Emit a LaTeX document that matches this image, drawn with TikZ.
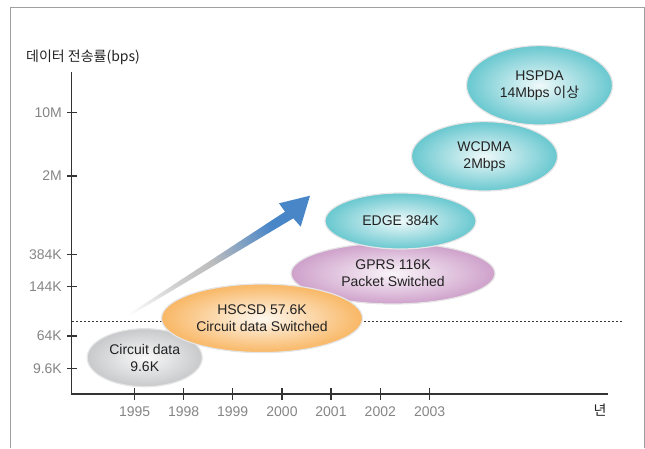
\documentclass[tikz,border=0pt]{standalone}
\usepackage{fontspec}
\setmainfont{Liberation Sans}
\newfontfamily\krfont{Noto Sans CJK KR}
\usetikzlibrary{shapes.geometric}
\definecolor{axisgray}{HTML}{858585}
\definecolor{framegray}{HTML}{A0A0A0}
\definecolor{axisdark}{HTML}{333333}
\definecolor{txtdark}{HTML}{222222}
\definecolor{grayc}{HTML}{C4C5C7}
\definecolor{orangec}{HTML}{F8B25A}
\definecolor{purplec}{HTML}{CB9AC7}
\definecolor{tealc}{HTML}{5EC4CC}
\definecolor{arrowblue}{HTML}{4886C8}
\pgfdeclareradialshading{grayball}{\pgfpoint{0bp}{0bp}}{color(0bp)=(grayc!10!white); color(6bp)=(grayc!30!white); color(27bp)=(grayc); color(50bp)=(grayc)}
\pgfdeclareradialshading{orangeball}{\pgfpoint{0bp}{0bp}}{color(0bp)=(orangec!10!white); color(6bp)=(orangec!30!white); color(27bp)=(orangec); color(50bp)=(orangec)}
\pgfdeclareradialshading{purpleball}{\pgfpoint{0bp}{0bp}}{color(0bp)=(purplec!10!white); color(6bp)=(purplec!30!white); color(27bp)=(purplec); color(50bp)=(purplec)}
\pgfdeclareradialshading{tealball}{\pgfpoint{0bp}{0bp}}{color(0bp)=(tealc!10!white); color(6bp)=(tealc!30!white); color(27bp)=(tealc); color(50bp)=(tealc)}
\pgfdeclarehorizontalshading{arrowsh}{100bp}{color(0bp)=(white); color(28bp)=(white); color(44bp)=(black!20); color(54bp)=(black!26); color(72bp)=(arrowblue); color(100bp)=(arrowblue)}
\tikzset{
  bubble/.style={ellipse, inner sep=0pt, draw=white!90!black, line width=1.2pt,
    text=txtdark, align=center, font=\fontsize{14}{17}\selectfont},
  axlabel/.style={text=axisgray, font=\fontsize{14}{17}\selectfont, inner sep=0pt},
  tickmark/.style={axisdark, line width=1.2pt},
  axisline/.style={axisdark, line width=1.4pt}
}
\begin{document}
\begin{tikzpicture}[x=1pt,y=1pt]
\useasboundingbox (0,0) rectangle (645,448);
% frame
\draw[framegray, line width=1pt] (10,0) -- (10,440) -- (644,440) -- (644,0);
% axes
\coordinate (origin) at (71.7,54);
\coordinate (ytop) at (71.7,376);
\coordinate (xend) at (608,54);
\draw[axisline] (ytop) -- (origin) -- (xend);
% title
\node[anchor=west, text=txtdark, font=\fontsize{14}{17}\krfont, inner sep=0pt] (title) at (26,391) {데이터 전송률(bps)};
% y ticks
\foreach \yy/\lab/\nm in {335.3/10M/ya, 272/2M/yb, 193.7/384K/yc, 161.3/144K/yd, 112/64K/ye, 79.7/9.6K/yf}{
  \draw[tickmark] (67,\yy) -- (76.5,\yy);
  \node[axlabel, anchor=east] (\nm) at (62,\yy) {\lab};
}
% x ticks
\foreach \xx/\lab/\nm in {134.7/1995/xa, 183.7/1998/xb, 232.7/1999/xc, 282/2000/xd, 331/2001/xe, 380.3/2002/xf, 429.7/2003/xg}{
  \draw[tickmark] (\xx,48) -- (\xx,60);
  \node[axlabel] (\nm) at (\xx,36.3) {\lab};
}
\node[text=txtdark, font=\fontsize{14}{17}\krfont, inner sep=0pt] (year) at (600,38) {년};
% growth arrow
\shade[shading=arrowsh, shading angle=33.4]
  (86,106) -- (285,236.3) -- (279,244.7) -- (310,252.3) -- (300.7,221.3) -- (293.3,229.7) -- cycle;
% dotted reference line
\coordinate (dl) at (72,127);
\coordinate (dr) at (623,127);
\draw[axisdark, line width=0.8pt, dash pattern=on 2pt off 2pt] (dl) -- (dr);
% bubbles
\node[bubble, shading=grayball, minimum width=115pt, minimum height=58pt] (cd) at (144.7,90.3) {Circuit data\\9.6K};
\node[bubble, shading=purpleball, minimum width=204pt, minimum height=61pt] (gprs) at (393,174.5) {GPRS 116K\\Packet Switched};
\node[bubble, shading=orangeball, minimum width=201pt, minimum height=68.6pt] (hscsd) at (262,129.7) {HSCSD 57.6K\\Circuit data Switched};
\node[bubble, shading=tealball, minimum width=151pt, minimum height=56pt] (edge) at (400.5,227) {EDGE 384K};
\node[bubble, shading=tealball, minimum width=146pt, minimum height=69.4pt] (wcdma) at (484.5,291.7) {WCDMA\\2Mbps};
\node[bubble, shading=tealball, minimum width=146pt, minimum height=79.4pt] (hspda) at (539.5,362.7) {HSPDA\\14Mbps {\krfont 이상}};
\end{tikzpicture}
\end{document}
